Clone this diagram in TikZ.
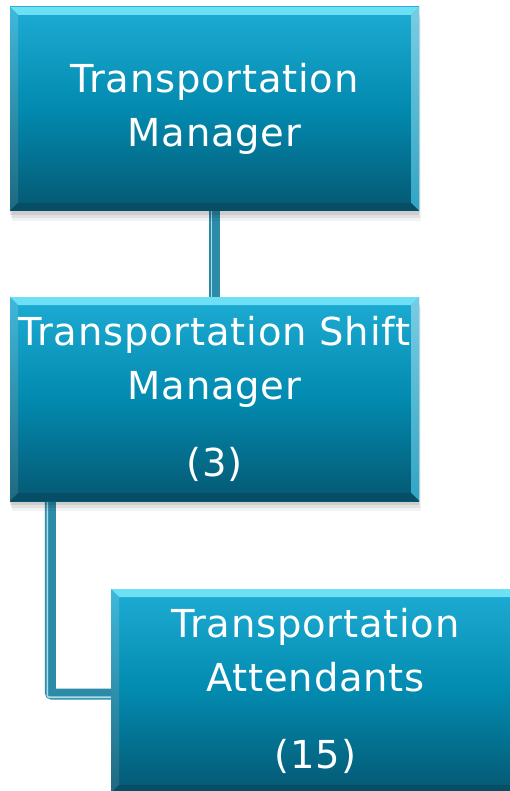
\documentclass[tikz,border=0pt]{standalone}
\usepackage{fontspec}
\setmainfont{DejaVu Sans}[LetterSpace=2]
\usetikzlibrary{calc}
\pgfdeclarelayer{background}
\pgfsetlayers{background,main}
\definecolor{facetop}{RGB}{30,172,212}
\definecolor{facemid}{RGB}{2,138,175}
\definecolor{facebot}{RGB}{5,88,114}
\definecolor{bevtop}{RGB}{110,224,245}
\definecolor{bevright}{RGB}{120,205,228}
\definecolor{bevbot}{RGB}{6,78,102}
\definecolor{conn}{RGB}{44,140,168}
\definecolor{connlight}{RGB}{170,222,234}
\tikzset{
  orgbox/.style={
    rectangle, minimum width=409pt, minimum height=204pt, inner sep=0pt,
    text=white, align=center,
    font=\fontsize{38.5}{54}\selectfont,
    preaction={fill=black, opacity=0.05, transform canvas={xshift=2pt,yshift=-10pt}},
    preaction={fill=black, opacity=0.07, transform canvas={xshift=1pt,yshift=-7pt}},
    preaction={fill=black, opacity=0.09, transform canvas={yshift=-4pt}},
    path picture={
      \shade[top color=facetop, bottom color=facebot, middle color=facemid]
        (path picture bounding box.north west) rectangle (path picture bounding box.south east);
      \fill[bevtop] (path picture bounding box.north west) -- (path picture bounding box.north east)
        -- ([xshift=-8pt,yshift=-8pt]path picture bounding box.north east)
        -- ([xshift=8pt,yshift=-8pt]path picture bounding box.north west) -- cycle;
      \shade[top color=bevright, bottom color=facemid!60!bevright]
        (path picture bounding box.north east) -- (path picture bounding box.south east)
        -- ([xshift=-8pt,yshift=8pt]path picture bounding box.south east)
        -- ([xshift=-8pt,yshift=-8pt]path picture bounding box.north east) -- cycle;
      \shade[top color=facetop!85!white, bottom color=facebot!90!white]
        (path picture bounding box.north west) -- (path picture bounding box.south west)
        -- ([xshift=8pt,yshift=8pt]path picture bounding box.south west)
        -- ([xshift=8pt,yshift=-8pt]path picture bounding box.north west) -- cycle;
      \fill[bevbot] (path picture bounding box.south west) -- (path picture bounding box.south east)
        -- ([xshift=-8pt,yshift=8pt]path picture bounding box.south east)
        -- ([xshift=8pt,yshift=8pt]path picture bounding box.south west) -- cycle;
    }
  },
  connline/.style={draw=conn, line width=11pt},
  connhl/.style={draw=connlight, line width=1.6pt},
}
\begin{document}
\begin{tikzpicture}[x=1pt,y=-1pt]
\useasboundingbox (0,0) rectangle (510,791);
\node[orgbox] (tm) at (214.5,109) {Transportation\\Manager};
\node[orgbox] (tsm) at (214.5,399) {Transportation Shift\\Manager\\[23pt](3)};
\node[orgbox] (ta) at (315.5,691) {Transportation\\Attendants\\[23pt](15)};
\begin{pgfonlayer}{background}
  \draw[connline] (tm.south) -- (tsm.north);
  \draw[connhl] ([xshift=-3pt]tm.south) -- ([xshift=-3pt]tsm.north);
  \coordinate (elbow) at ($(tsm.south west)+(40.5pt,-193pt)$);
  \draw[connline, rounded corners=2pt] ([xshift=40.5pt]tsm.south west) |- (ta.west |- elbow);
  \draw[connhl, rounded corners=2pt] ([xshift=37.5pt]tsm.south west) |- ([yshift=-3pt]ta.west |- elbow);
\end{pgfonlayer}
\end{tikzpicture}
\end{document}
